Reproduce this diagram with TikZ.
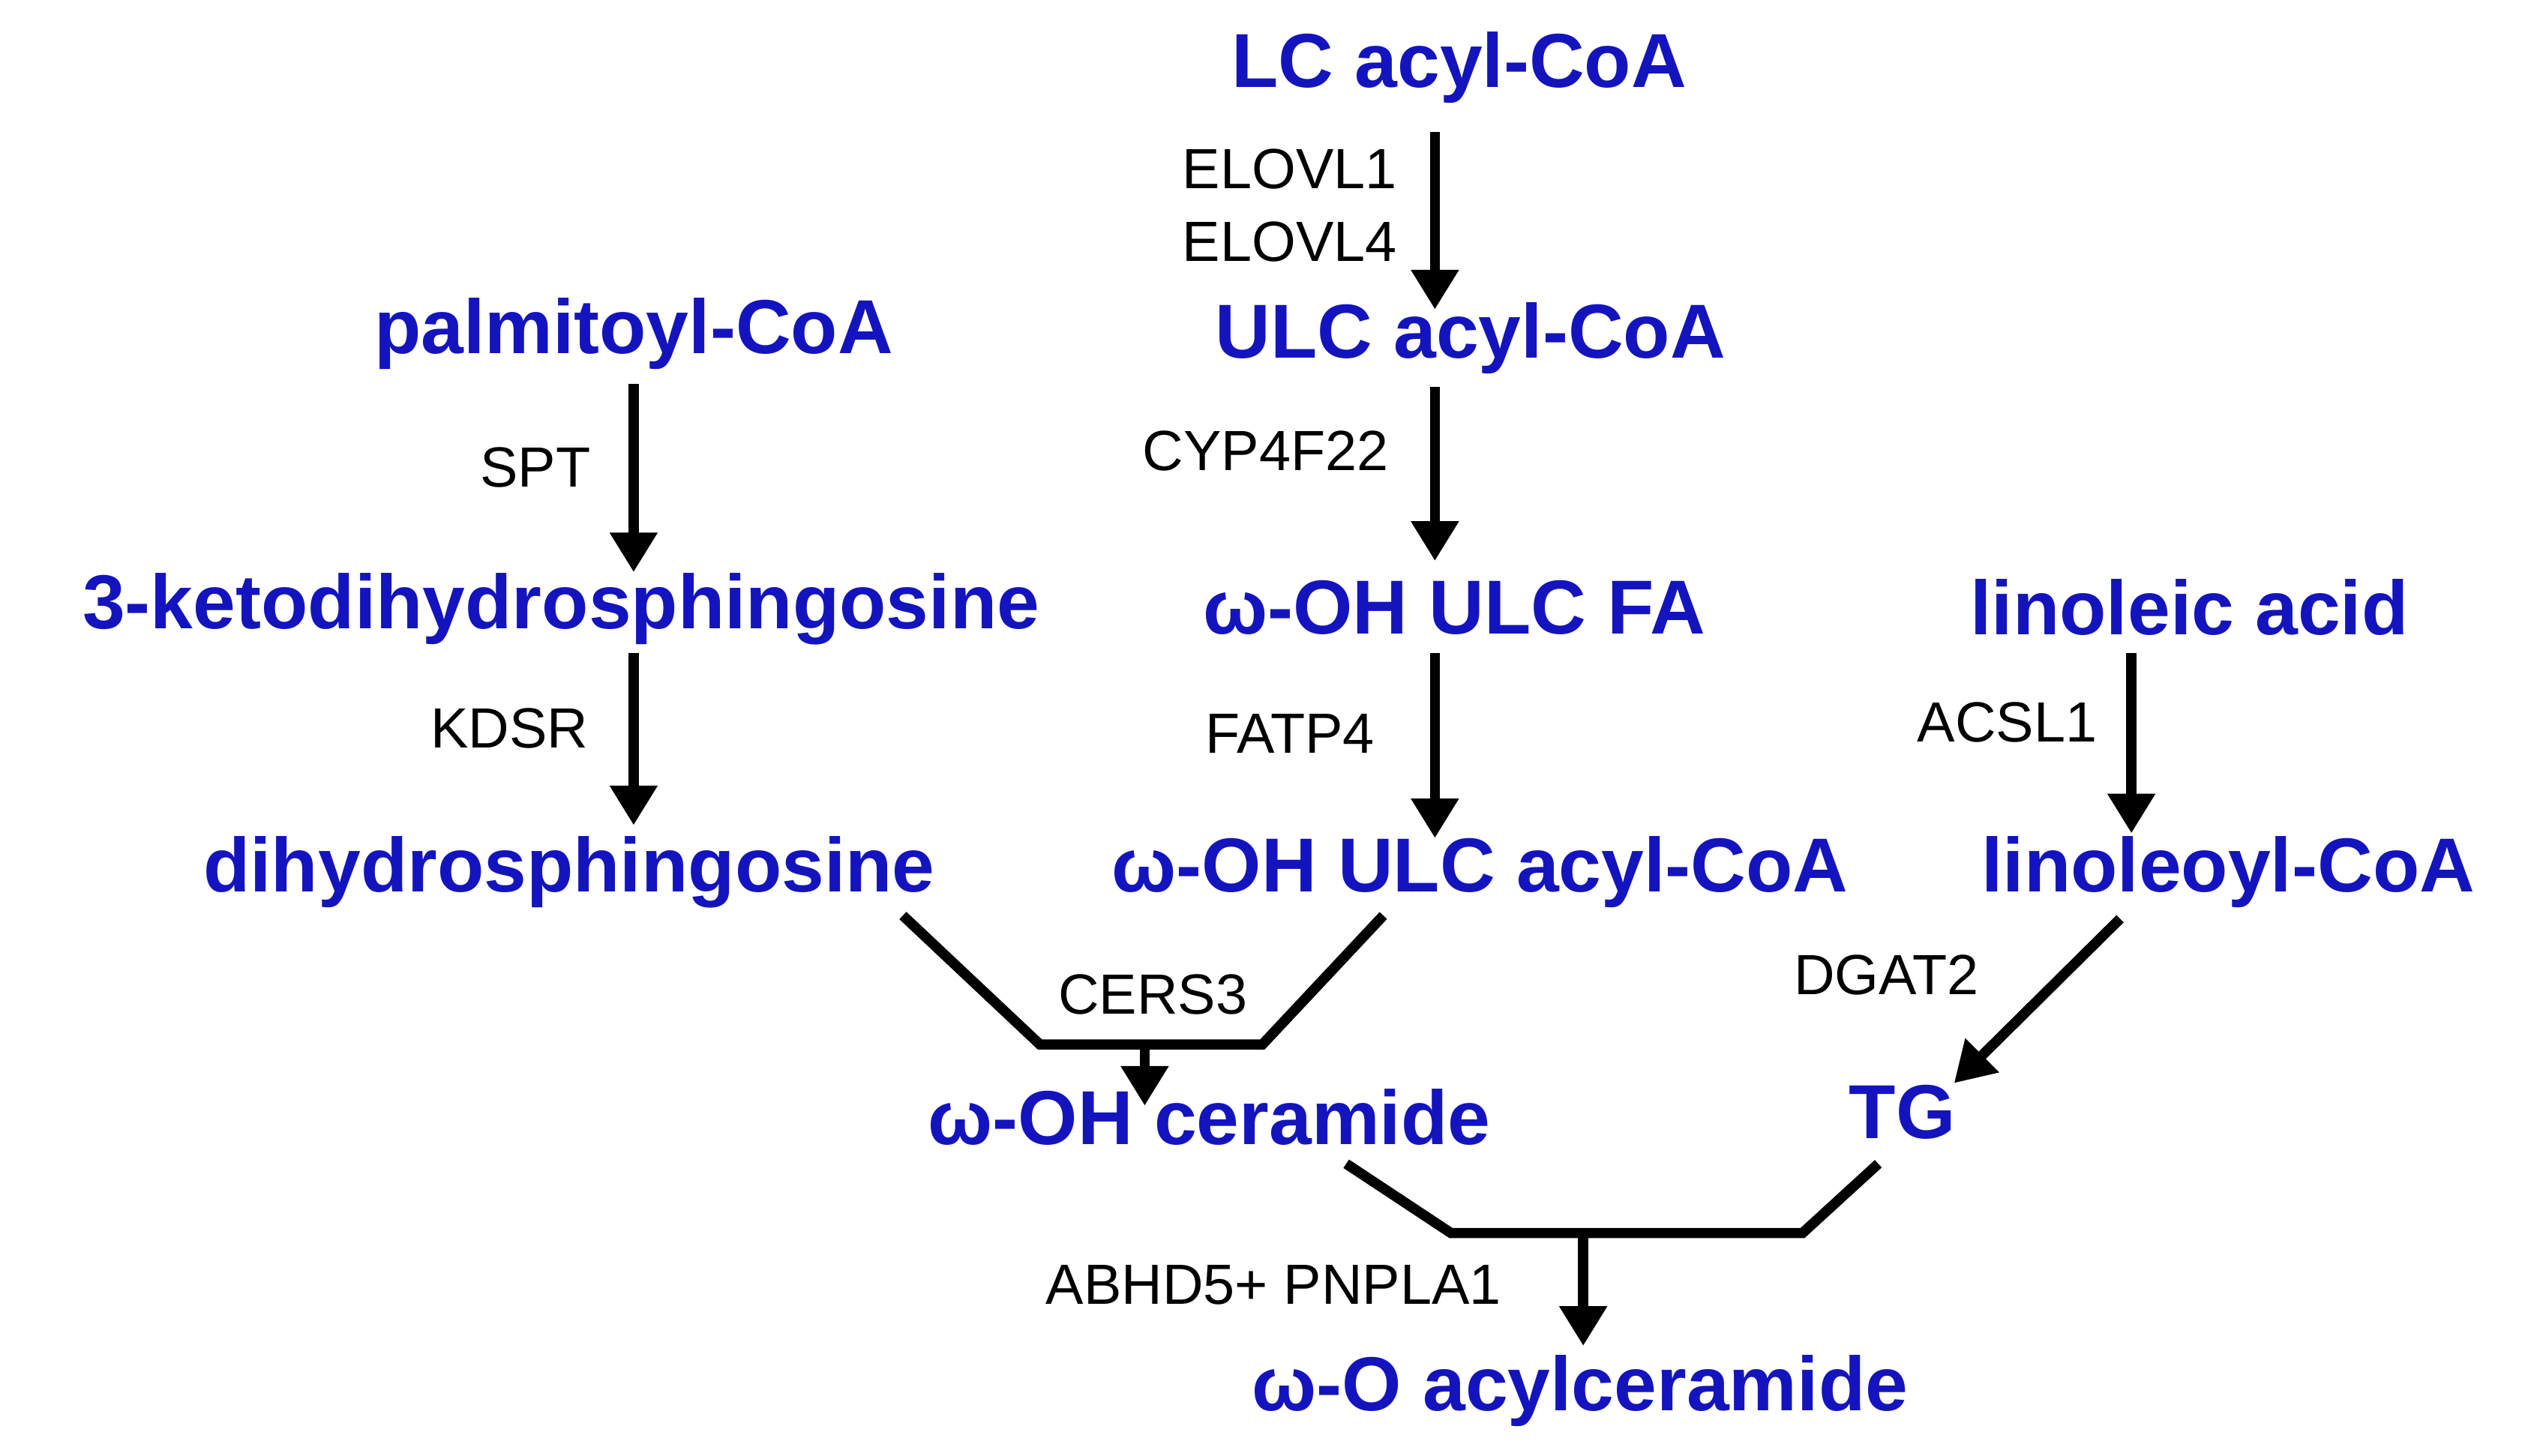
\documentclass[tikz,border=0pt]{standalone}
\usepackage{fontspec}
\setmainfont{Liberation Sans}
\usetikzlibrary{arrows.meta}
\definecolor{metblue}{RGB}{20,20,190}
\tikzset{
  met/.style={font=\fontsize{13.5}{15}\selectfont\bfseries, text=metblue, inner sep=1pt},
  enz/.style={font=\fontsize{10}{12}\selectfont, inner sep=1pt},
  rxn/.style={line width=1.8pt, -{Triangle[length=7pt,width=8pt]}},
  merge/.style={line width=1.8pt}
}
\begin{document}
\begin{tikzpicture}[x=0.01cm,y=-0.01cm]
    \useasboundingbox (0,0) rectangle (1568,903);
    % metabolites
    \node[met] (lc) at (905,42) {LC acyl-CoA};
    \node[met] (ulc) at (912,210) {ULC acyl-CoA};
    \node[met] (palm) at (393,207) {palmitoyl-CoA};
    \node[met] (keto) at (348,378) {3-ketodihydrosphingosine};
    \node[met] (ohfa) at (902,377) {ω-OH ULC FA};
    \node[met] (lino) at (1358,377) {linoleic acid};
    \node[met] (dihy) at (353,541) {dihydrosphingosine};
    \node[met] (ohcoa) at (918,541) {ω-OH ULC acyl-CoA};
    \node[met] (linocoa) at (1382,541) {linoleoyl-CoA};
    \node[met] (cer) at (750,693) {ω-OH ceramide};
    \node[met] (tg) at (1180,690) {TG};
    \node[met] (acyl) at (980,863) {ω-O acylceramide};

    % enzymes
    \node[enz] (elovl1) at (800,105) {ELOVL1};
    \node[enz] (elovl4) at (800,150) {ELOVL4};
    \node[enz] (cyp) at (785,280) {CYP4F22};
    \node[enz] (fatp) at (800,455) {FATP4};
    \node[enz] (spt) at (332,290) {SPT};
    \node[enz] (kdsr) at (316,452) {KDSR};
    \node[enz] (acsl) at (1245,448) {ACSL1};
    \node[enz] (dgat) at (1170,605) {DGAT2};
    \node[enz] (cers) at (715,617) {CERS3};
    \node[enz] (abhd) at (790,797) {ABHD5+ PNPLA1};

    % vertical steps
    \draw[rxn] (890,82) -- (890,192);
    \draw[rxn] (890,240) -- (890,348);
    \draw[rxn] (890,405) -- (890,520);
    \draw[rxn] (393,238) -- (393,355);
    \draw[rxn] (393,405) -- (393,512);
    \draw[rxn] (1322,405) -- (1322,517);
    \draw[rxn] (1315,570) -- (1212,672);

    % ceramide synthesis
    \coordinate (c1) at (645,648);
    \coordinate (c2) at (783,648);
    \draw[merge] (560,568) -- (c1) -- (c2) -- (858,568);
    \draw[rxn] (710,648) -- (710,686);

    % acylceramide formation
    \coordinate (a1) at (900,765);
    \coordinate (a2) at (1118,765);
    \draw[merge] (835,722) -- (a1) -- (a2) -- (1165,722);
    \draw[rxn] (982,765) -- (982,835);
\end{tikzpicture}
\end{document}
